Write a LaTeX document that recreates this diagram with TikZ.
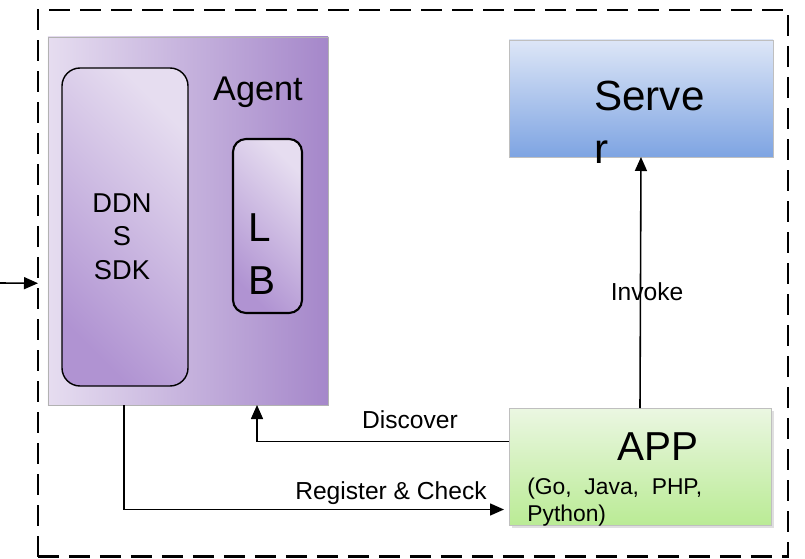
\documentclass[tikz,border=0pt]{standalone}
\usepackage{fontspec}
\setmainfont{Liberation Sans}
\usetikzlibrary{arrows.meta,shadows}

\definecolor{agentlight}{HTML}{E6DDF0}
\definecolor{agentdark}{HTML}{A587CA}
\definecolor{sdklight}{HTML}{E6DDF0}
\definecolor{sdkdark}{HTML}{B093D2}
\definecolor{serverlight}{HTML}{DDE6F7}
\definecolor{serverdark}{HTML}{7EA4E2}
\definecolor{applight}{HTML}{EBF7E2}
\definecolor{appdark}{HTML}{BAEB95}

\begin{document}
\begin{tikzpicture}[
    box/.style={inner sep=0, outer sep=0},
    flow/.style={line width=0.9pt, -{Triangle[length=0.28cm,width=0.24cm]}},
    lbl/.style={font=\fontsize{14}{16}\selectfont}
  ]
  \useasboundingbox (0,0) rectangle (16.1,11.16);

  % host boundary
  \node[box, draw, line width=1.4pt, dash pattern=on 0.42cm off 0.2cm,
        minimum width=15cm, minimum height=10.93cm] (host) at (8.26,5.495) {};
  \coordinate (ext) at (0,5.5);

  % Agent with SDK and LB
  \node[box, draw=gray!60, line width=0.4pt, left color=agentlight, right color=agentdark,
        minimum width=5.6cm, minimum height=7.36cm] (agent) at (3.76,6.74) {};
  \node[font=\fontsize{19.5}{22}\selectfont] (agentlbl) at (5.16,9.32) {Agent};

  \node[box, draw, line width=0.8pt, rounded corners=0.36cm,
        top color=sdklight, bottom color=sdkdark, shading angle=-45,
        minimum width=2.52cm, minimum height=6.36cm] (sdk) at (2.5,6.62) {};
  \node[align=center, font=\fontsize{15.5}{19}\selectfont] (sdklbl) at (2.44,6.43) {DDN\\S\\SDK};

  \node[box, draw, line width=1.2pt, rounded corners=0.26cm,
        top color=sdklight, bottom color=sdkdark, shading angle=-45,
        minimum width=1.38cm, minimum height=3.48cm] (lb) at (5.35,6.64) {};
  \node[anchor=north west, inner sep=0, align=left, font=\fontsize{23}{30.6}\selectfont] (lblbl) at (4.96,6.9) {L\\B};

  % Server
  \node[box, draw=gray!50, line width=0.4pt, top color=serverlight, bottom color=serverdark,
        minimum width=5.28cm, minimum height=2.34cm] (server) at (12.82,9.19) {};
  \node[anchor=north west, inner sep=0, align=left, font=\fontsize{24}{30}\selectfont] (serverlbl) at (11.88,9.54) {Serve\\r};

  % APP
  \node[box, draw=gray!50, line width=0.4pt, top color=applight, bottom color=appdark,
        drop shadow={opacity=0.25, shadow xshift=0.05cm, shadow yshift=-0.06cm},
        minimum width=5.24cm, minimum height=2.34cm] (app) at (12.8,1.83) {};
  \node[font=\fontsize{23}{27}\selectfont] (applbl) at (13.16,2.22) {APP};
  \node[anchor=north west, inner sep=0, align=left, font=\fontsize{13}{15.3}\selectfont] (applang) at (10.54,1.6) {(Go,\ \ Java,\ \ PHP,\\Python)};

  % connectors
  \draw[flow] (ext) -- (host.west);
  \draw[flow] (app.north) -- (server.south);
  \node[lbl] (invokelbl) at (12.94,5.32) {Invoke};
  \draw[flow] ([yshift=0.5cm]app.west) -| ([xshift=1.38cm]agent.south);
  \node[lbl] (discoverlbl) at (8.2,2.76) {Discover};
  \draw[flow, shorten >=0.1cm] ([xshift=-1.28cm]agent.south) |- ([yshift=-0.86cm]app.west);
  \node[lbl] (registerlbl) at (7.82,1.30) {Register \& Check};

\end{tikzpicture}
\end{document}
